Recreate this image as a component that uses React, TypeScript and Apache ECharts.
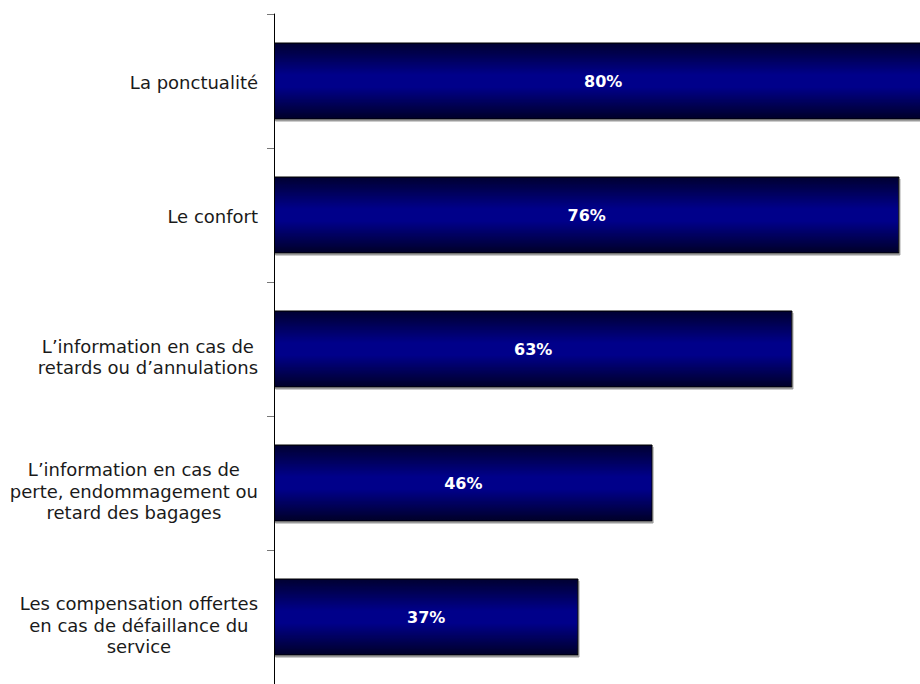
import React, { useEffect, useRef } from "react";
import * as echarts from "echarts";

const categories: string[] = [
  "La ponctualité",
  "Le confort",
  "L’information en cas de\nretards ou d’annulations",
  "L’information en cas de\nperte, endommagement ou\nretard des bagages",
  "Les compensation offertes\nen cas de défaillance du\nservice",
];
const values: number[] = [80, 76, 63, 46, 37];

const FONT = "'DejaVu Sans', Verdana, sans-serif";

export default function App() {
  const ref = useRef<HTMLDivElement>(null);
  useEffect(() => {
    if (!ref.current) return;
    const chart = echarts.init(ref.current, undefined, { renderer: "svg" });
    chart.setOption({
      animation: false,
      backgroundColor: "#ffffff",
      grid: { left: 274, top: 14, right: 0, height: 676.5, containLabel: false },
      xAxis: { type: "value", min: 0, max: 78.5, show: false },
      yAxis: {
        type: "category",
        inverse: true,
        data: categories,
        axisLine: { show: true, lineStyle: { color: "#000000", width: 1 } },
        axisTick: { show: true, length: 7, lineStyle: { color: "#777777", width: 1 } },
        splitLine: { show: false },
        axisLabel: {
          margin: 16,
          color: "#1a1a1a",
          fontFamily: FONT,
          fontSize: 18,
          lineHeight: 21.5,
          align: "right",
          formatter: (v: string) => {
            const lines = v.split("\n");
            const key = lines.length > 1 ? "m" : "s";
            return lines.map((l) => `{${key}|${l}}`).join("\n");
          },
          rich: {
            s: {
              align: "center",
              fontFamily: FONT,
              fontSize: 18,
              lineHeight: 21.5,
              padding: [2, 0, 0, 0],
              color: "#1a1a1a",
            },
            m: {
              align: "center",
              fontFamily: FONT,
              fontSize: 18,
              lineHeight: 21.5,
              padding: [16, 0, 0, 0],
              color: "#1a1a1a",
            },
          },
        },
      },
      series: [
        {
          type: "bar",
          data: values,
          barWidth: 77,
          clip: false,
          itemStyle: {
            color: new echarts.graphic.LinearGradient(0, 0, 0, 1, [
              { offset: 0, color: "#000030" },
              { offset: 0.42, color: "#00008a" },
              { offset: 0.58, color: "#00008a" },
              { offset: 1, color: "#000028" },
            ]),
            borderColor: "#000000",
            borderWidth: 1,
            shadowColor: "#9a9a9a",
            shadowOffsetX: 1,
            shadowOffsetY: 2,
            shadowBlur: 0,
          },
          label: {
            show: true,
            position: "inside",
            color: "#ffffff",
            fontFamily: FONT,
            fontWeight: "bold",
            fontSize: 16,
            formatter: "{c}%",
          },
        },
      ],
    });
    return () => chart.dispose();
  }, []);
  return (
    <div
      ref={ref}
      style={{ position: "absolute", left: 0, top: 0, width: 920, height: 684 }}
    />
  );
}
